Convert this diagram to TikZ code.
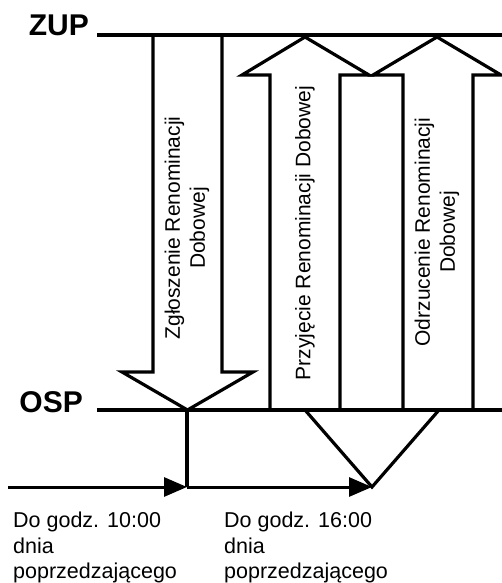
\documentclass[tikz,border=0pt]{standalone}
\usepackage{fontspec}
\setmainfont{Liberation Sans}
\usetikzlibrary{arrows.meta}

\begin{document}
\begin{tikzpicture}[x=1pt,y=-1pt]
\tikzstyle{level} = [draw, line width=3.2pt]
\tikzstyle{bigarrow} = [draw, line width=3.2pt, fill=white]
\tikzstyle{side} = [font=\fontsize{30}{31}\selectfont\bfseries, anchor=base east, inner sep=0pt]
\tikzstyle{msg} = [rotate=90, align=center, inner sep=0pt,
font=\fontsize{21}{25}\selectfont]
\tikzstyle{note} = [anchor=north west, align=left, inner sep=0pt,
font=\fontsize{21.5}{25.5}\selectfont]
\tikzstyle{time} = [draw, line width=3pt, -{Triangle[length=23pt,width=19pt]}]
\useasboundingbox (0,0) rectangle (502,583);

% levels
\coordinate (zupW) at (97,35);
\coordinate (zupE) at (502,35);
\coordinate (ospW) at (97,410);
\coordinate (ospE) at (502,410);
\node[side] (zup) at (89,36) {ZUP};
\node[side] (osp) at (83,412) {OSP};

% big arrows
\draw[bigarrow] (153,35) -- (153,372) -- (122,372) -- (187.5,410)
 -- (253,372) -- (222,372) -- (222,35);
\draw[bigarrow] (270,410) -- (270,75) -- (242,75) -- (305,37)
 -- (369,75) -- (340,75) -- (340,410);
\draw[bigarrow] (403,410) -- (403,75) -- (373,75) -- (437,37)
 -- (501,75) -- (473,75) -- (473,410);
\node[msg] (zgl) at (187,228) {Zgłoszenie Renominacji\\Dobowej};
\node[msg] (prz) at (305,233) {Przyjęcie Renominacji Dobowej};
\node[msg] (odrz) at (437,232) {Odrzucenie Renominacji\\Dobowej};

\path[level] (zupW) -- (zupE);
\path[level] (ospW) -- (ospE);

% time line
\coordinate (zglTip) at (187,410);
\coordinate (przFoot) at (305,410);
\coordinate (odrzFoot) at (439,410);
\coordinate (t0) at (8,487);
\coordinate (t1) at (187,487);
\coordinate (t2) at (372,487);
\path[time] (t0) -- (t1);
\path[time] (t1) -- (t2);
\path[level] (zglTip) -- (t1);
\path[level] (przFoot) -- (t2) -- (odrzFoot);

\node[note] (d10) at (13,512) {Do godz. 10:00\\dnia\\poprzedzającego};
\node[note] (d16) at (224,512) {Do godz. 16:00\\dnia\\poprzedzającego};
\end{tikzpicture}
\end{document}
